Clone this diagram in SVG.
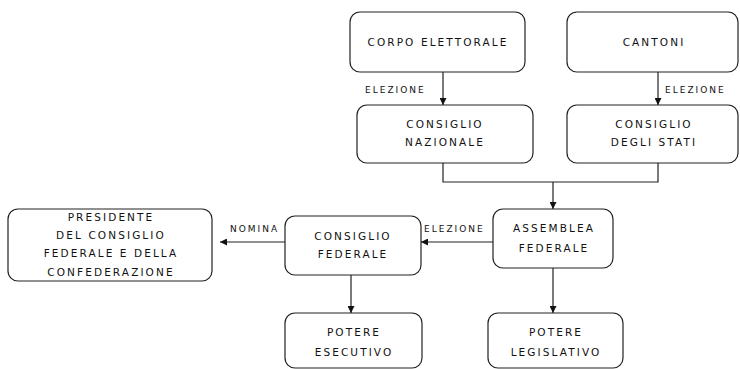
<svg xmlns="http://www.w3.org/2000/svg" width="740" height="369" viewBox="0 0 740 369">
<style>
.box{fill:#fff;stroke:#222;stroke-width:1.2}
.t{font-family:"Comic Sans MS","DejaVu Sans",sans-serif;font-size:10.5px;fill:#111;text-anchor:middle;dominant-baseline:central;letter-spacing:2.1px}
.l{font-family:"Comic Sans MS","DejaVu Sans",sans-serif;font-size:9px;fill:#111;dominant-baseline:central;letter-spacing:2px}
.c{fill:none;stroke:#222;stroke-width:1.2}
</style>
<defs>
<marker id="a" viewBox="0 0 10 10" refX="10" refY="5" markerWidth="7" markerHeight="7" orient="auto" markerUnits="userSpaceOnUse">
<path d="M0,0 L10,5 L0,10 z" fill="#111"/>
</marker>
</defs>
<rect width="740" height="369" fill="#fff"/>
<g id="connectors">
<line class="c" x1="443" y1="72" x2="443" y2="105" marker-end="url(#a)"/>
<line class="c" x1="658" y1="72" x2="658" y2="105" marker-end="url(#a)"/>
<polyline class="c" points="443,163 443,182 658,182 658,163"/>
<line class="c" x1="553" y1="182" x2="553" y2="209" marker-end="url(#a)"/>
<line class="c" x1="493" y1="242" x2="421" y2="242" marker-end="url(#a)"/>
<line class="c" x1="285" y1="242" x2="220" y2="242" marker-end="url(#a)"/>
<line class="c" x1="351" y1="275" x2="351" y2="313" marker-end="url(#a)"/>
<line class="c" x1="553" y1="268" x2="553" y2="313" marker-end="url(#a)"/>
<text class="l" x="365" y="90">ELEZIONE</text>
<text class="l" x="665" y="90">ELEZIONE</text>
<text class="l" x="424" y="229">ELEZIONE</text>
<text class="l" x="230" y="229">NOMINA</text>
</g>
<g id="corpo"><rect class="box" x="350" y="12" width="175" height="60" rx="10"/><text class="t" x="438" y="42">CORPO ELETTORALE</text></g>
<g id="cantoni"><rect class="box" x="567" y="12" width="171" height="60" rx="10"/><text class="t" x="654" y="42">CANTONI</text></g>
<g id="nazionale"><rect class="box" x="357" y="105" width="176" height="58" rx="10"/><text class="t" x="445" y="124">CONSIGLIO</text><text class="t" x="445" y="142">NAZIONALE</text></g>
<g id="stati"><rect class="box" x="567" y="105" width="171" height="58" rx="10"/><text class="t" x="654" y="124">CONSIGLIO</text><text class="t" x="654" y="142">DEGLI STATI</text></g>
<g id="assemblea"><rect class="box" x="493" y="209" width="120" height="59" rx="10"/><text class="t" x="554" y="228">ASSEMBLEA</text><text class="t" x="554" y="248">FEDERALE</text></g>
<g id="federale"><rect class="box" x="285" y="216" width="136" height="59" rx="10"/><text class="t" x="353" y="236">CONSIGLIO</text><text class="t" x="353" y="254">FEDERALE</text></g>
<g id="presidente"><rect class="box" x="8" y="209" width="204" height="72" rx="10"/><text class="t" x="111" y="217">PRESIDENTE</text><text class="t" x="111" y="235">DEL CONSIGLIO</text><text class="t" x="111" y="253">FEDERALE E DELLA</text><text class="t" x="111" y="272">CONFEDERAZIONE</text></g>
<g id="esecutivo"><rect class="box" x="285" y="313" width="137" height="55" rx="10"/><text class="t" x="354" y="332">POTERE</text><text class="t" x="354" y="352">ESECUTIVO</text></g>
<g id="legislativo"><rect class="box" x="488" y="313" width="135" height="55" rx="10"/><text class="t" x="556" y="332">POTERE</text><text class="t" x="556" y="352">LEGISLATIVO</text></g>
</svg>
